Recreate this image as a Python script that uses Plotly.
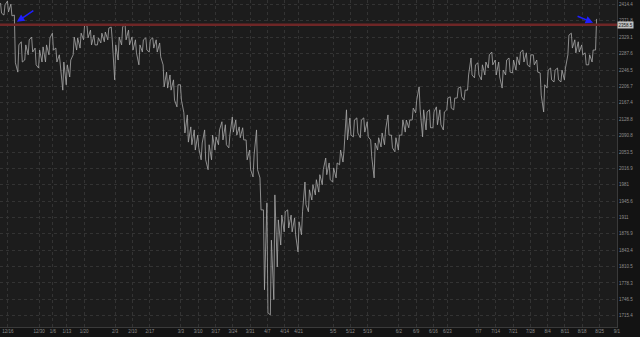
import math
import pandas as pd
import plotly.graph_objects as go

# ---------------- data ----------------
holidays = ['2024-12-25', '2025-01-01', '2025-01-09', '2025-01-20', '2025-02-17',
            '2025-04-18', '2025-05-26', '2025-06-19', '2025-07-04', '2025-09-01']
first_day = '2024-12-12'
last_day = '2025-08-22'

highs = [2419, 2414, 2424, 2416, 2387, 2310, 2318, 2310, 2323, 2330,
         2302, 2297, 2305, 2310, 2328, 2340, 2302, 2285, 2267, 2260,
         2272, 2330, 2328, 2340, 2361, 2359, 2348, 2335, 2328, 2340,
         2343, 2353, 2356, 2310, 2330, 2356, 2364, 2348, 2330, 2323,
         2310, 2323, 2328, 2323, 2328, 2323, 2315, 2260, 2242, 2235,
         2223, 2211, 2211, 2144, 2139, 2111, 2104, 2092, 2074, 2104,
         2070, 2092, 2088, 2104, 2123, 2116, 2092, 2134, 2127, 2111,
         2109, 2081, 2058, 2047, 2104, 1996, 1927, 1942, 1864, 1959,
         1906, 1916, 1923, 1927, 1916, 1910, 1902, 1923, 1987, 1970,
         1981, 1992, 2003, 2014, 2040, 2029, 2018, 2029, 2058, 2058,
         2151, 2132, 2127, 2132, 2127, 2132, 2123, 2081, 2074, 2086,
         2097, 2104, 2139, 2092, 2086, 2092, 2127, 2127, 2127, 2155,
         2174, 2206, 2151, 2146, 2151, 2146, 2158, 2151, 2146, 2179,
         2182, 2179, 2203, 2206, 2198, 2235, 2277, 2260, 2265, 2260,
         2267, 2285, 2292, 2272, 2267, 2247, 2272, 2277, 2272, 2280,
         2292, 2297, 2290, 2285, 2285, 2272, 2240, 2211, 2247, 2252,
         2247, 2252, 2247, 2252, 2335, 2340, 2323, 2318, 2310, 2290,
         2285, 2297, 2377]

lows = [2392, 2387, 2395, 2385, 2265, 2242, 2267, 2272, 2285, 2292,
        2260, 2252, 2267, 2267, 2285, 2297, 2267, 2252, 2198, 2211,
        2230, 2285, 2297, 2302, 2323, 2328, 2310, 2310, 2310, 2315,
        2318, 2323, 2323, 2223, 2272, 2310, 2323, 2310, 2297, 2290,
        2260, 2292, 2297, 2292, 2302, 2292, 2280, 2206, 2203, 2198,
        2174, 2158, 2174, 2097, 2076, 2070, 2058, 2063, 2036, 2036,
        2014, 2036, 2058, 2070, 2081, 2070, 2063, 2099, 2092, 2086,
        2081, 2036, 2014, 1998, 2014, 1927, 1765, 1721, 1717, 1746,
        1810, 1854, 1881, 1889, 1881, 1875, 1840, 1875, 1938, 1923,
        1948, 1959, 1965, 1981, 2003, 1992, 1987, 1996, 2025, 2031,
        2081, 2092, 2088, 2097, 2086, 2099, 2088, 2043, 1996, 2058,
        2065, 2070, 2092, 2063, 2054, 2058, 2092, 2099, 2109, 2127,
        2144, 2151, 2088, 2104, 2109, 2109, 2116, 2116, 2104, 2151,
        2155, 2151, 2179, 2182, 2174, 2198, 2235, 2228, 2235, 2223,
        2235, 2252, 2260, 2235, 2230, 2203, 2235, 2242, 2240, 2247,
        2260, 2267, 2260, 2255, 2260, 2242, 2186, 2146, 2203, 2223,
        2218, 2223, 2218, 2223, 2285, 2302, 2290, 2292, 2285, 2260,
        2260, 2267, 2297]

last_price = 2358.5
level_line = 2362.0

tick_dates = ['2024-12-16', '2024-12-30', '2025-01-06', '2025-01-13', '2025-01-20',
              '2025-02-03', '2025-02-10', '2025-02-17', '2025-03-03', '2025-03-10',
              '2025-03-17', '2025-03-24', '2025-03-31', '2025-04-07', '2025-04-14',
              '2025-04-21', '2025-05-05', '2025-05-12', '2025-05-19', '2025-06-02',
              '2025-06-09', '2025-06-16', '2025-06-23', '2025-07-07', '2025-07-14',
              '2025-07-21', '2025-07-28', '2025-08-04', '2025-08-11', '2025-08-18',
              '2025-08-25', '2025-09-01']

price_ticks = [2414.4, 2371.8, 2329.1, 2287.6, 2246.5, 2206.7, 2167.4, 2128.8, 2090.8, 2053.5,
               2016.9, 1981, 1945.6, 1911, 1876.9, 1843.4, 1810.5, 1778.3, 1746.5, 1715.4]
price_tick_text = ['2414.4', '2371.8', '2329.1', '2287.6', '2246.5', '2206.7', '2167.4', '2128.8',
                   '2090.8', '2053.5', '2016.9', '1981', '1945.6', '1911', '1876.9', '1843.4',
                   '1810.5', '1778.3', '1746.5', '1715.4']

y_min, y_max = 1694.3, 2426.9

# ---------------- trading calendar (bar index axis) ----------------
cal = [d for d in pd.bdate_range(first_day, '2025-09-10')
       if d.strftime('%Y-%m-%d') not in holidays]
n = len(highs)
dates = cal[:n]
assert dates[-1].strftime('%Y-%m-%d') == last_day, dates[-1]


def bar_index(datestr):
    t = pd.Timestamp(datestr)
    for i, d in enumerate(cal):
        if d >= t:
            return i
    return len(cal)


tick_idx = [bar_index(d) for d in tick_dates]
tick_txt = [f"{pd.Timestamp(d).month}/{pd.Timestamp(d).day}" for d in tick_dates]

# zig-zag through each bar's range
xs, ys = [], []
for j in range(n):
    mid = (highs[j] + lows[j]) / 2
    nxt = (highs[j + 1] + lows[j + 1]) / 2 if j + 1 < n else last_price
    seq = [lows[j], highs[j]] if nxt >= mid else [highs[j], lows[j]]
    xs += [j - 0.15, j + 0.15]
    ys += seq

fig = go.Figure()
fig.add_trace(go.Scatter(x=xs, y=ys, mode='lines',
                         line=dict(color='#a9a9a9', width=0.8), hoverinfo='skip'))

# level line as a shape spanning the plot
fig.add_shape(type='line', xref='paper', x0=0, x1=1, yref='y',
              y0=level_line, y1=level_line,
              line=dict(color='#6e2626', width=2.5))

font_small = dict(family='Liberation Sans, Arial, sans-serif', size=4.5, color='#8e8e8e')

fig.update_layout(
    width=640, height=337,
    margin=dict(l=0, r=23, t=0, b=10),
    paper_bgcolor='#131313', plot_bgcolor='#1c1c1c',
    showlegend=False,
    xaxis=dict(range=[-0.3, 178.05], tickmode='array', tickvals=tick_idx, ticktext=tick_txt,
               showgrid=True, gridcolor='#333333', griddash='dot', gridwidth=1,
               zeroline=False, showline=True, linecolor='#3a3a3a', ticks='',
               tickfont=font_small),
    yaxis=dict(type='log', side='right', range=[math.log10(y_min), math.log10(y_max)],
               tickmode='array', tickvals=price_ticks, ticktext=price_tick_text,
               showgrid=True, gridcolor='#333333', griddash='dot', gridwidth=1,
               zeroline=False, showline=True, linecolor='#3a3a3a', ticks='',
               tickfont=font_small),
)

# price bubble
fig.add_annotation(xref='paper', x=1.0, yref='y', y=math.log10(level_line),
                   text=f"{last_price}", showarrow=False, xanchor='left',
                   bgcolor='#c2c2c2', borderpad=0.5,
                   font=dict(family='Liberation Sans, Arial, sans-serif', size=4.5, color='#111111'))

# blue arrows
i_drop = bar_index('2024-12-18')
fig.add_annotation(x=i_drop, y=math.log10(level_line), xref='x', yref='y',
                   xshift=2, yshift=3, ax=18, ay=-12, text='', showarrow=True,
                   arrowhead=2, arrowsize=1, arrowwidth=1.5, arrowcolor='#1f1fff')
fig.add_annotation(x=n - 1, y=math.log10(level_line), xref='x', yref='y',
                   xshift=-3, yshift=2, ax=-17, ay=-7, text='', showarrow=True,
                   arrowhead=2, arrowsize=1, arrowwidth=1.5, arrowcolor='#1f1fff')

fig.write_html('out.html')
